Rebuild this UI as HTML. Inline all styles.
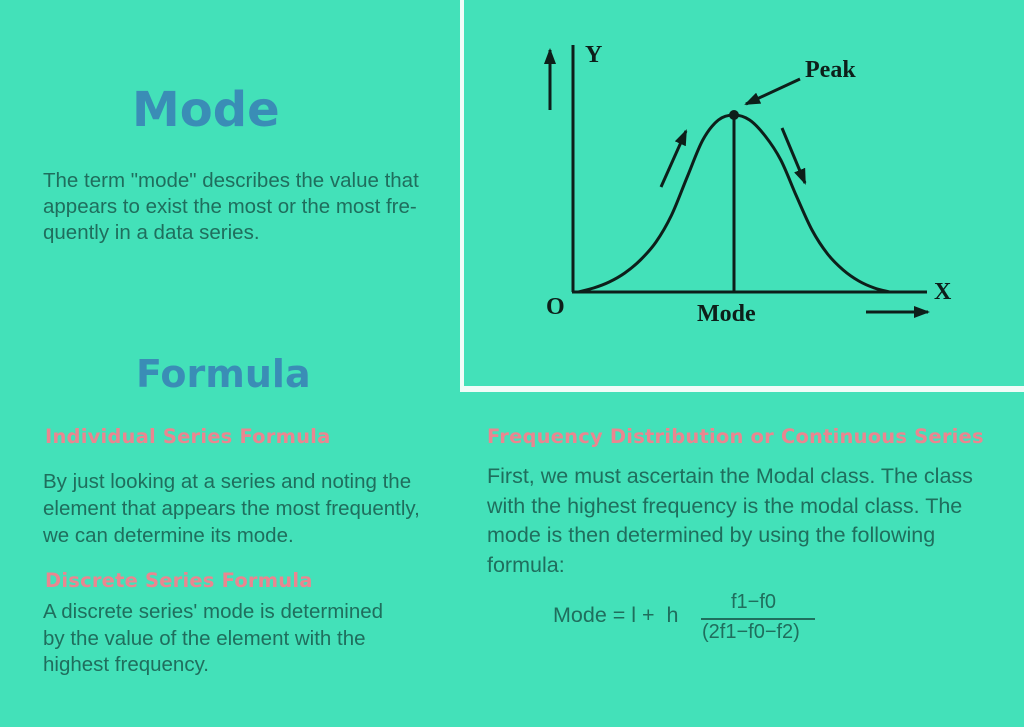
<!DOCTYPE html>
<html><head><meta charset="utf-8"><style>
body{margin:0;width:1024px;height:727px;background:#43e1b9;position:relative;overflow:hidden;font-family:"Liberation Sans","DejaVu Sans",sans-serif;}
.t{position:absolute;white-space:nowrap;color:#1f6e5d;}
.h{position:absolute;white-space:nowrap;color:#3a8db6;font-family:"DejaVu Sans","Liberation Sans",sans-serif;font-weight:bold;}
.p{position:absolute;white-space:nowrap;color:#ea8690;font-family:"DejaVu Sans","Liberation Sans",sans-serif;font-weight:bold;font-size:19.5px;letter-spacing:0.2px;}
</style></head><body>
<div style="position:absolute;left:460px;top:0;width:4px;height:392px;background:#f0fcf8"></div>
<div style="position:absolute;left:460px;top:386px;width:564px;height:6px;background:#f0fcf8"></div>

<div class="h" style="left:132px;top:82px;font-size:48px;">Mode</div>
<div class="t" style="left:43px;top:168px;font-size:20.5px;line-height:26px;">The term "mode" describes the value that<br>appears to exist the most or the most fre-<br>quently in a data series.</div>

<div class="h" style="left:136px;top:352px;font-size:38px;">Formula</div>

<div class="p" style="left:45px;top:425px;">Individual Series Formula</div>
<div class="t" style="left:43px;top:468px;font-size:20.5px;line-height:27px;">By just looking at a series and noting the<br>element that appears the most frequently,<br>we can determine its mode.</div>

<div class="p" style="left:45px;top:569px;">Discrete Series Formula</div>
<div class="t" style="left:43px;top:599px;font-size:20.5px;line-height:26.5px;">A discrete series' mode is determined<br>by the value of the element with the<br>highest frequency.</div>

<div class="p" style="left:487px;top:425px;">Frequency Distribution or Continuous Series</div>
<div class="t" style="left:487px;top:462px;font-size:21.5px;line-height:29.5px;">First, we must ascertain the Modal class. The class<br>with the highest frequency is the modal class. The<br>mode is then determined by using the following<br>formula:</div>

<div class="t" style="left:553px;top:603px;font-size:21.5px;">Mode = l +&nbsp; h</div>
<div class="t" style="left:731px;top:591px;font-size:20px;">f1−f0</div>
<div style="position:absolute;left:701px;top:618px;width:114px;height:1.5px;background:#1f6e5d"></div>
<div class="t" style="left:702px;top:621px;font-size:20px;">(2f1−f0−f2)</div>

<svg id="chart" width="1024" height="727" style="position:absolute;left:0;top:0" xmlns="http://www.w3.org/2000/svg">
<defs>
<marker id="ah2" markerWidth="16" markerHeight="12" refX="14" refY="6" orient="auto" markerUnits="userSpaceOnUse"><path d="M0,0 L16,6 L0,12 Z" fill="#0d1f1a"/></marker></defs>
<g id="axes" stroke="#0d1f1a" stroke-width="3" fill="none">
<line x1="573" y1="45" x2="573" y2="292"/>
<line x1="572" y1="292" x2="927" y2="292"/>
<line x1="550" y1="110" x2="550" y2="50" marker-end="url(#ah2)"/>
<line x1="866" y1="312" x2="928" y2="312" marker-end="url(#ah2)"/>
<line x1="661" y1="187" x2="686" y2="131" marker-end="url(#ah2)"/>
<line x1="782" y1="128" x2="805" y2="183" marker-end="url(#ah2)"/>
<line x1="800" y1="79" x2="746" y2="104" marker-end="url(#ah2)"/>
</g>
<g font-family="Liberation Serif,serif" font-weight="bold" fill="#0d1f1a">
<text x="585" y="62" font-size="24">Y</text>
<text x="934" y="299" font-size="24">X</text>
<text x="546" y="314" font-size="24">O</text>
<text x="805" y="77" font-size="24">Peak</text>
<text x="697" y="321" font-size="24">Mode</text>
</g>
</svg>
<script>
const xValues=[0,1,2,3,4,5,6,7,8,9,10,11,12,13,14,15,16,17,18,19,20];
const yValues=[0,4,10,19,32,50,77,115,152,172,177,172,156,132,96,62,38,22,11,4,0];
const modeIndex=10;
const svg=document.getElementById('chart');
const NS='http://www.w3.org/2000/svg';
function sx(v){return 578+v*15.6;}
function sy(v){return 292-v;}
const pts=xValues.map((x,i)=>[sx(x),sy(yValues[i])]);
let d='M'+pts[0][0]+','+pts[0][1];
for(let i=0;i<pts.length-1;i++){
 const p0=pts[Math.max(0,i-1)],p1=pts[i],p2=pts[i+1],p3=pts[Math.min(pts.length-1,i+2)];
 const c1=[p1[0]+(p2[0]-p0[0])/6,p1[1]+(p2[1]-p0[1])/6];
 const c2=[p2[0]-(p3[0]-p1[0])/6,p2[1]-(p3[1]-p1[1])/6];
 d+=' C'+c1[0]+','+c1[1]+' '+c2[0]+','+c2[1]+' '+p2[0]+','+p2[1];
}
const path=document.createElementNS(NS,'path');
path.setAttribute('d',d);path.setAttribute('fill','none');path.setAttribute('stroke','#0d1f1a');path.setAttribute('stroke-width','3');


svg.appendChild(path);
const mx=sx(xValues[modeIndex]),my=sy(yValues[modeIndex]);
const ml=document.createElementNS(NS,'line');
ml.setAttribute('x1',mx);ml.setAttribute('x2',mx);ml.setAttribute('y1',my);ml.setAttribute('y2',sy(0));
ml.setAttribute('stroke','#0d1f1a');ml.setAttribute('stroke-width','3');


svg.appendChild(ml);
const dot=document.createElementNS(NS,'circle');
dot.setAttribute('cx',mx);dot.setAttribute('cy',my);dot.setAttribute('r','5');dot.setAttribute('fill','#0d1f1a');


svg.appendChild(dot);
</script>
</body></html>
